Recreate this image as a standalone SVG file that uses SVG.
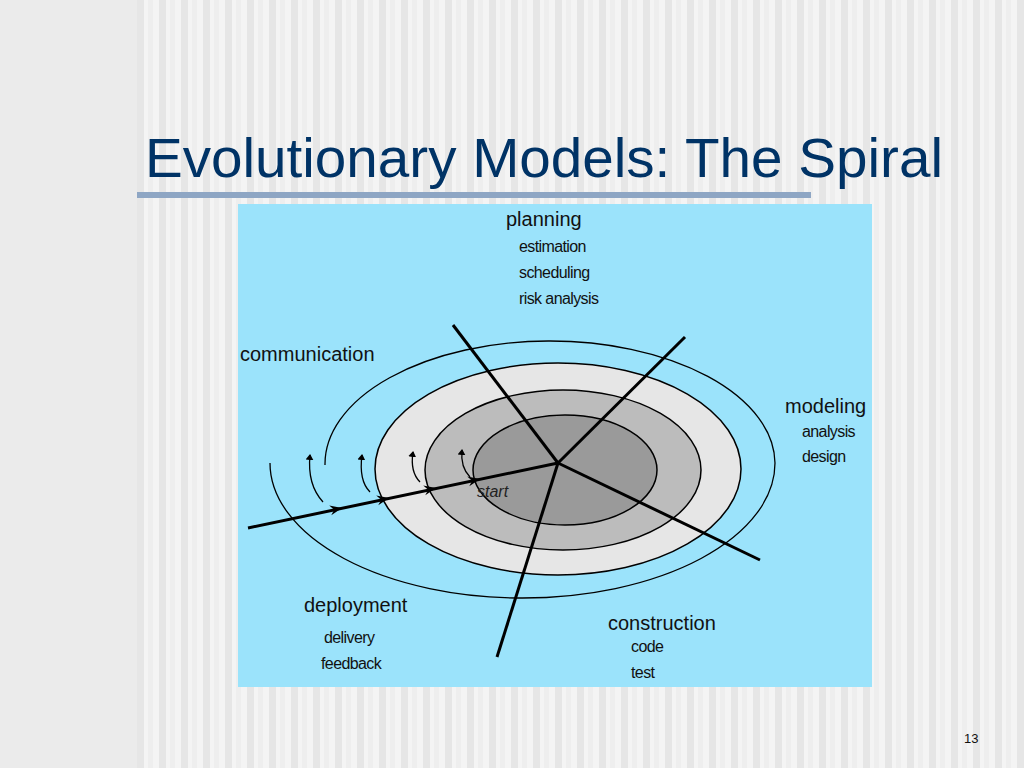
<svg xmlns="http://www.w3.org/2000/svg" width="1024" height="768" viewBox="0 0 1024 768">
<defs>
<pattern id="stripes" x="137" y="0" width="22" height="768" patternUnits="userSpaceOnUse">
<rect width="22" height="768" fill="#f4f4f4"/>
<rect x="0" width="7" height="768" fill="#e6e6e6"/>
<rect x="11" width="5" height="768" fill="#eeeeee"/>
</pattern>
<marker id="sh" markerWidth="6" markerHeight="8" refX="5" refY="4" orient="auto" markerUnits="userSpaceOnUse"><path d="M0,0 L6,4 L0,8 Z" fill="#000"/></marker>
<path id="ah" d="M-12,-5 L0,0 L-12,5 L-8,0 Z" fill="#000"/>
</defs>
<style>
text{font-family:"Liberation Sans",Arial,sans-serif;fill:#111}
.h{font-size:20px}
.s{font-size:16px;letter-spacing:-0.6px}
.ring{stroke:#000;stroke-width:1.5}
.ln{stroke:#000;stroke-width:3;fill:none}
.thin{stroke:#000;stroke-width:1.3;fill:none}
</style>
<rect width="1024" height="768" fill="#ebebeb"/>
<rect x="137" width="887" height="768" fill="url(#stripes)"/>
<text x="145" y="177" textLength="798" lengthAdjust="spacingAndGlyphs" style="font-size:56px;fill:#003366">Evolutionary Models: The Spiral</text>
<rect x="137" y="192" width="674" height="6" fill="#8ea6c4"/>
<rect x="238" y="204" width="634" height="483" fill="#9be3fb"/>
<g id="rings">
<path class="thin" d="M270,463 A252.5,135 0 0 0 775,463 A225,123 0 0 0 325,465"/>
<ellipse class="ring" cx="558" cy="469" rx="183" ry="106" fill="#e6e6e6"/>
<ellipse class="ring" cx="563" cy="470" rx="138" ry="80" fill="#bcbcbc"/>
<ellipse class="ring" cx="565" cy="470" rx="92" ry="55" fill="#9a9a9a"/>
</g>
<g id="connectors">
<line class="ln" x1="558" y1="463" x2="453" y2="325"/>
<line class="ln" x1="558" y1="463" x2="685" y2="337"/>
<line class="ln" x1="558" y1="463" x2="760" y2="560"/>
<line class="ln" x1="558" y1="463" x2="497" y2="657"/>
<line class="ln" x1="558" y1="463" x2="248" y2="528"/>
<use href="#ah" transform="translate(342,508) rotate(-11.8)"/>
<use href="#ah" transform="translate(389,498) rotate(-11.8)"/>
<use href="#ah" transform="translate(436,488) rotate(-11.8)"/>
<use href="#ah" transform="translate(480,479) rotate(-11.8)"/>
<path class="thin" d="M323,502 C312,490 308,475 310,455" marker-end="url(#sh)"/>
<path class="thin" d="M370,492 C362,484 360,470 362,455" marker-end="url(#sh)"/>
<path class="thin" d="M420,482 C413,475 411,465 413,452" marker-end="url(#sh)"/>
<path class="thin" d="M470,477 C463,470 461,460 462,450" marker-end="url(#sh)"/>
</g>
<g id="planning"><text class="h" x="506" y="226">planning</text><text class="s" x="519" y="252">estimation</text><text class="s" x="519" y="278">scheduling</text><text class="s" x="519" y="304">risk analysis</text></g>
<g id="communication"><text class="h" x="240" y="361">communication</text></g>
<g id="modeling"><text class="h" x="785" y="413">modeling</text><text class="s" x="802" y="437">analysis</text><text class="s" x="802" y="462">design</text></g>
<g id="deployment"><text class="h" x="304" y="612">deployment</text><text class="s" x="324" y="643">delivery</text><text class="s" x="321" y="669">feedback</text></g>
<g id="construction"><text class="h" x="608" y="630">construction</text><text class="s" x="631" y="652">code</text><text class="s" x="631" y="678">test</text></g>
<g id="start"><text x="477" y="497" style="font-size:16px;font-style:italic;fill:#222">start</text></g>
<text x="964" y="743" style="font-size:13px">13</text>
</svg>
